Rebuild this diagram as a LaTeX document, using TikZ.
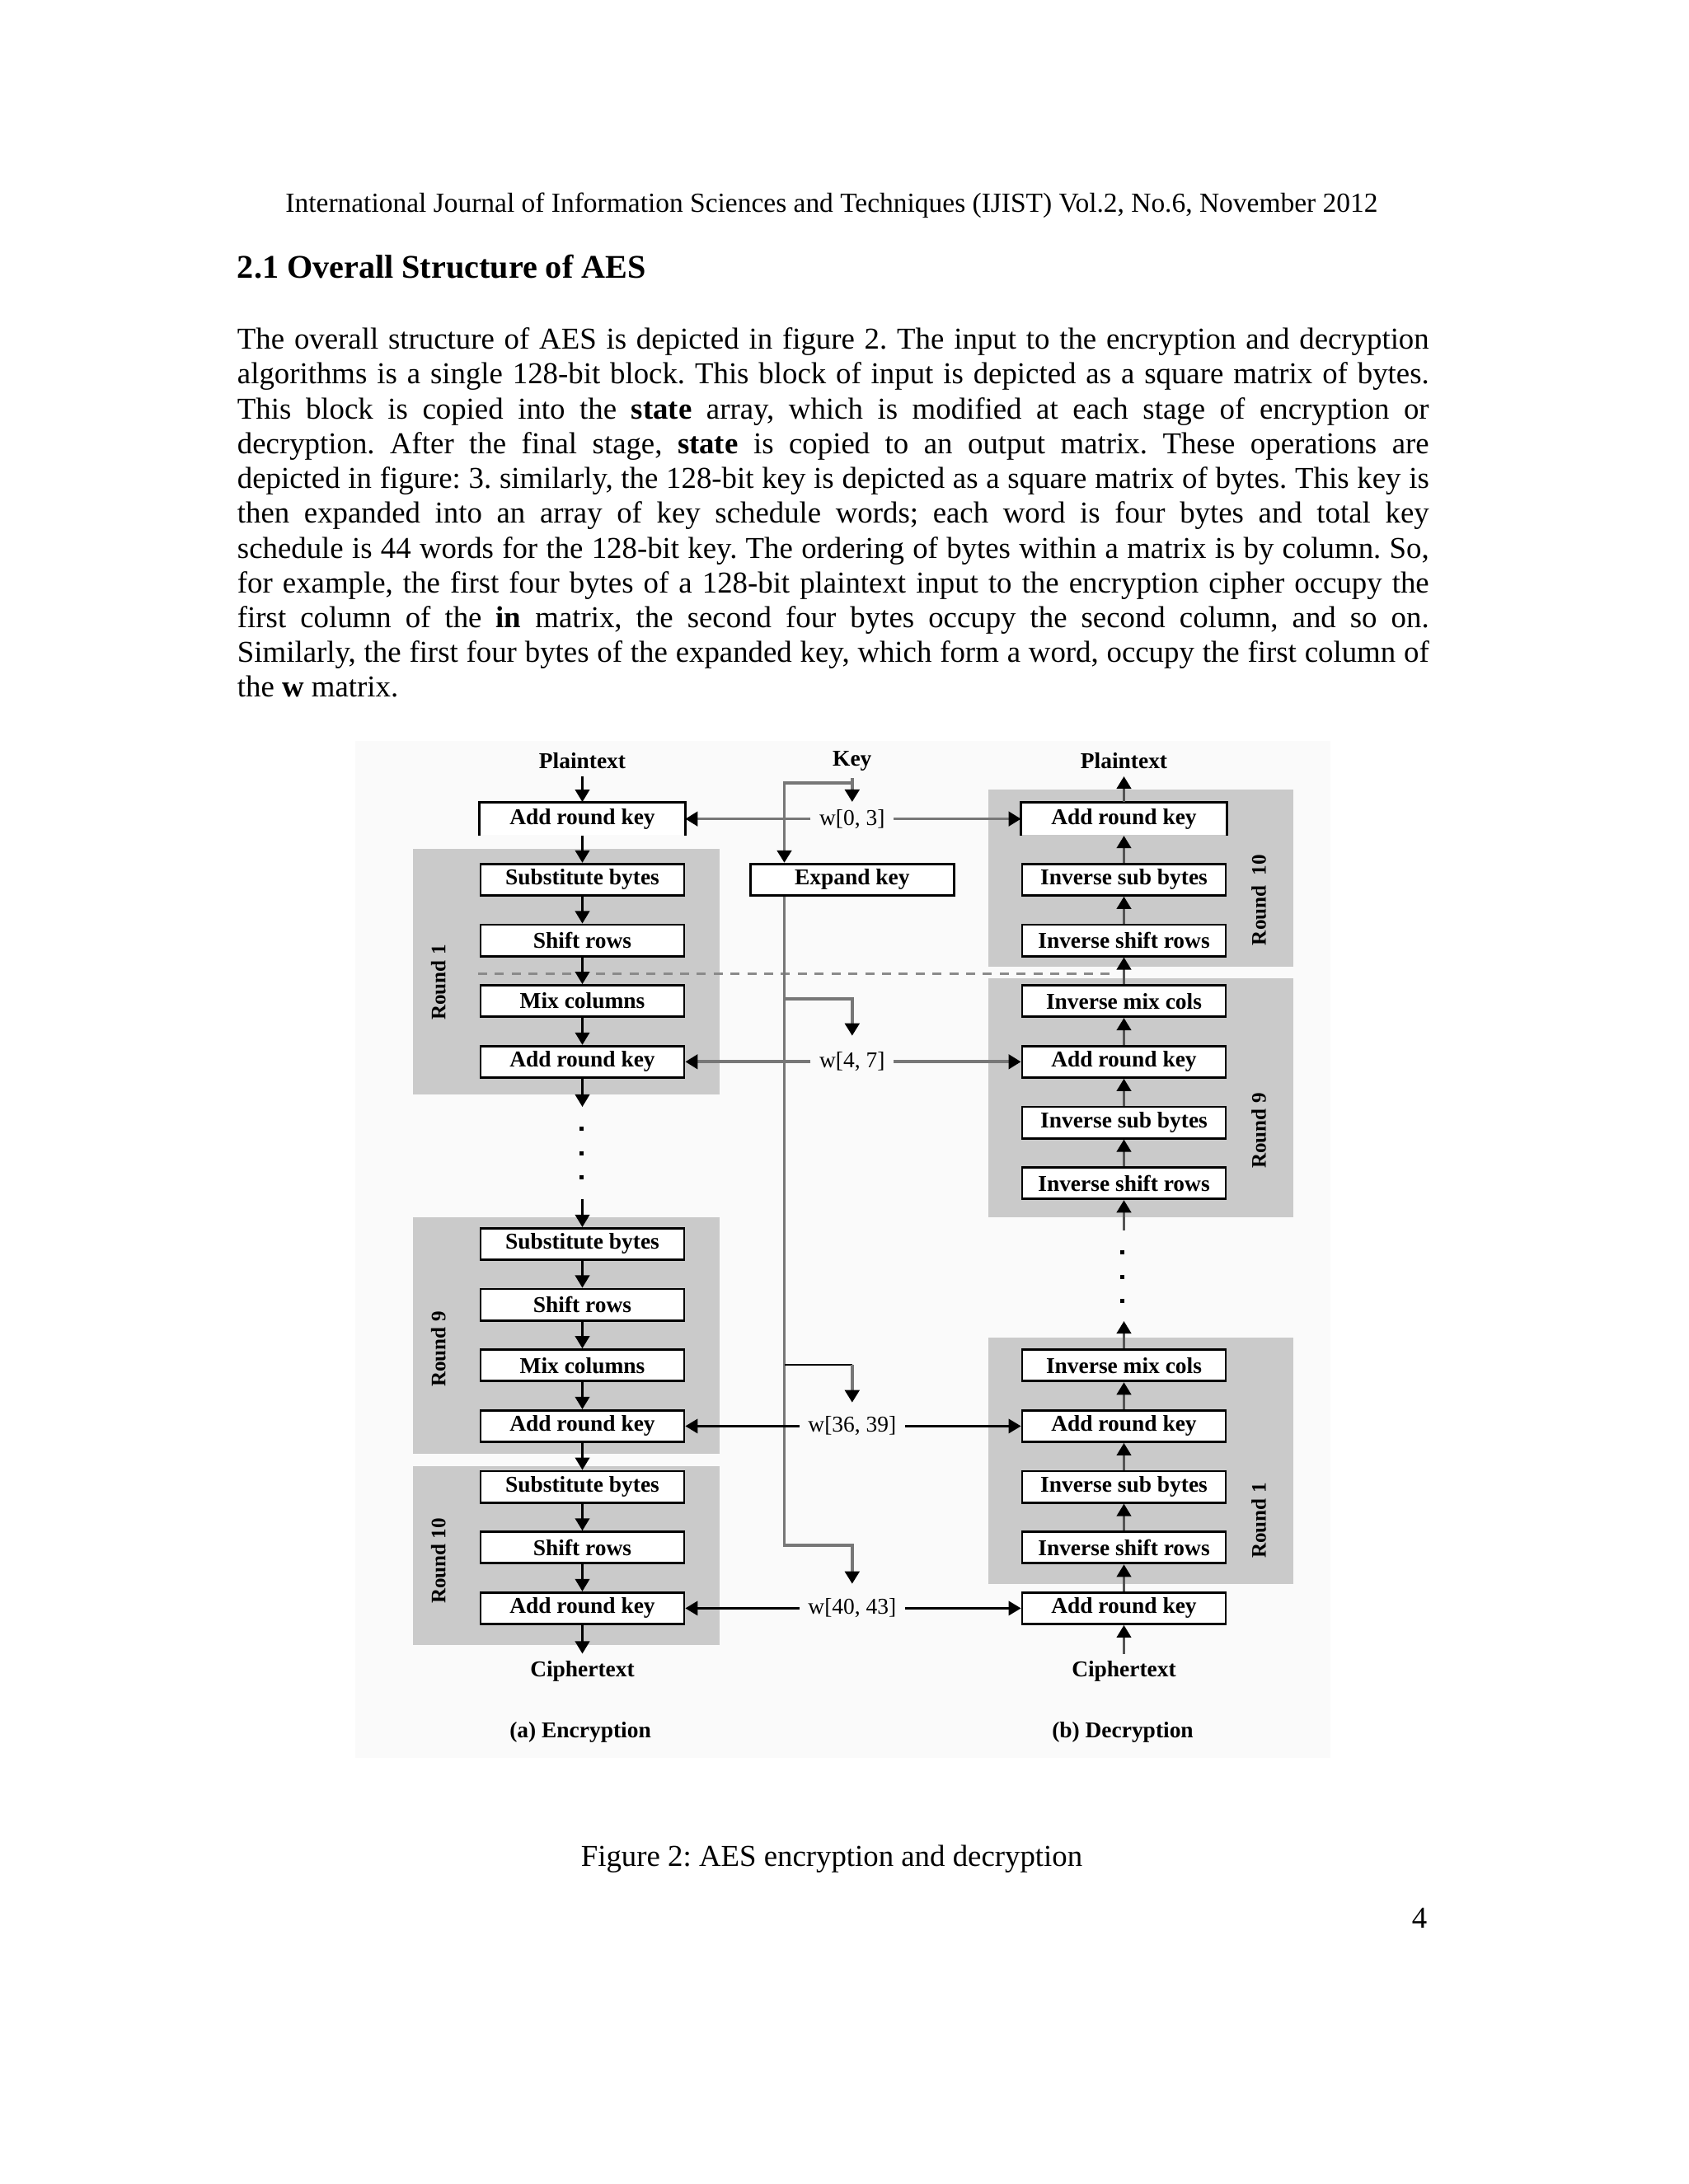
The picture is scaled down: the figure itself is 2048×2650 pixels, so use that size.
\documentclass[tikz,border=0pt]{standalone}
\usepackage{fontspec}
\setmainfont{Liberation Serif}
\usetikzlibrary{arrows.meta}
\definecolor{roundgray}{HTML}{CACACA}
\definecolor{keygray}{HTML}{777777}
\definecolor{flowgray}{HTML}{555555}
\definecolor{dashgray}{HTML}{8A8A8A}
\definecolor{figbg}{HTML}{FAFAFA}
\newcommand\mybody{\fontsize{11bp}{12.62bp}\selectfont}
\newcommand\myfig{\fontsize{8.2bp}{9bp}\selectfont}
\frenchspacing
\begin{document}
\frenchspacing
\begin{tikzpicture}[x=0.29883bp,y=-0.29883bp,
  box/.style={draw=black, line width=0.85bp, fill=white, minimum width=73.8bp, minimum height=11.4bp, inner sep=0pt, font=\myfig\bfseries},
  openbox/.style={box, draw=none},
  boxline/.style={draw=black, line width=0.85bp},
  lbl/.style={font=\myfig\bfseries, inner sep=2.5bp},
  wlbl/.style={font=\myfig, inner sep=3bp},
  rlbl/.style={font=\fontsize{7.5bp}{9bp}\selectfont\bfseries, rotate=90, inner sep=0pt},
  roundbg/.style={fill=roundgray},
  tip/.tip={Triangle[width=5.2bp,length=4.5bp,color=black]},
  flowL/.style={line width=0.8bp, draw=black, -tip},
  flowR/.style={line width=0.9bp, draw=flowgray, -tip},
  keyln/.style={line width=1.1bp, draw=keygray},
  keyarr/.style={keyln, -tip},
  blkarr/.style={line width=0.75bp, draw=black, -tip},
  blkln/.style={line width=0.75bp, draw=black},
  dotsq/.style={fill=black}
]
\useasboundingbox (0,0) rectangle (2048,2650);
\fill[white] (0,0) rectangle (2048,2650);

% ---------- page text ----------
\node[anchor=base, inner sep=0] (hdr) at (1009,257) {\fontsize{10bp}{12bp}\selectfont International Journal of Information Sciences and Techniques (IJIST) Vol.2, No.6, November 2012};
\node[anchor=base west, inner sep=0] (head) at (287.3,337) {\fontsize{12bp}{14bp}\selectfont\bfseries 2.1 Overall Structure of AES};

\node[anchor=base west, inner sep=0] (p1) at (287.3,423.6) {\mybody\makebox[432bp][s]{The overall structure of AES is depicted in figure 2. The input to the encryption and decryption}};
\node[anchor=base west, inner sep=0] (p2) at (287.3,465.9) {\mybody\makebox[432bp][s]{algorithms is a single 128-bit block. This block of input is depicted as a square matrix of bytes.}};
\node[anchor=base west, inner sep=0] (p3) at (287.3,508.1) {\mybody\makebox[432bp][s]{This block is copied into the \textbf{state} array, which is modified at each stage of encryption or}};
\node[anchor=base west, inner sep=0] (p4) at (287.3,550.4) {\mybody\makebox[432bp][s]{decryption. After the final stage, \textbf{state} is copied to an output matrix. These operations are}};
\node[anchor=base west, inner sep=0] (p5) at (287.3,592.6) {\mybody\makebox[432bp][s]{depicted in figure: 3. similarly, the 128-bit key is depicted as a square matrix of bytes. This key is}};
\node[anchor=base west, inner sep=0] (p6) at (287.3,634.8) {\mybody\makebox[432bp][s]{then expanded into an array of key schedule words; each word is four bytes and total key}};
\node[anchor=base west, inner sep=0] (p7) at (287.3,677.1) {\mybody\makebox[432bp][s]{schedule is 44 words for the 128-bit key. The ordering of bytes within a matrix is by column. So,}};
\node[anchor=base west, inner sep=0] (p8) at (287.3,719.3) {\mybody\makebox[432bp][s]{for example, the first four bytes of a 128-bit plaintext input to the encryption cipher occupy the}};
\node[anchor=base west, inner sep=0] (p9) at (287.3,761.6) {\mybody\makebox[432bp][s]{first column of the \textbf{in} matrix, the second four bytes occupy the second column, and so on.}};
\node[anchor=base west, inner sep=0] (p10) at (287.3,803.8) {\mybody\makebox[432bp][s]{Similarly, the first four bytes of the expanded key, which form a word, occupy the first column of}};
\node[anchor=base west, inner sep=0] (p11) at (287.3,845.1) {\mybody the \textbf{w} matrix.};

\node[anchor=base, inner sep=0] (cap) at (1009,2264) {\mybody Figure 2: AES encryption and decryption};
\node[anchor=base, inner sep=0] (pg) at (1722,2339) {\mybody 4};

% ---------- figure ----------
\fill[figbg] (431,899) rectangle (1614,2133);

% round backgrounds
\fill[roundgray] (501,1030) rectangle (873,1328);
\fill[roundgray] (501,1477) rectangle (873,1764);
\fill[roundgray] (501,1779) rectangle (873,1996);
\fill[roundgray] (1199,958) rectangle (1569,1173);
\fill[roundgray] (1199,1187) rectangle (1569,1477);
\fill[roundgray] (1199,1623) rectangle (1569,1922);

% dashed separator
\draw[dashgray, line width=0.8bp, dash pattern=on 3.3bp off 2.8bp] (580,1181.7) -- (1351,1181.7);

% round labels
\node[rlbl] (r1L) at (531.8,1192) {Round 1};
\node[rlbl] (r9L) at (531.8,1637) {Round 9};
\node[rlbl] (r10L) at (531.8,1894) {Round 10};
\node[rlbl] (r10R) at (1527,1092) {Round\ \ 10};
\node[rlbl] (r9R) at (1527,1372) {Round 9};
\node[rlbl] (r1R) at (1527,1845) {Round 1};

% top / bottom labels
\node[lbl] (ptL) at (706.5,923.3) {Plaintext};
\node[lbl] (key) at (1033.8,923.3) {Key};
\node[lbl] (ptR) at (1363.5,923.3) {Plaintext};
\node[lbl] (ctL) at (706.5,2028) {Ciphertext};
\node[lbl] (ctR) at (1363.5,2028) {Ciphertext};
\node[lbl] (capA) at (704,2101.7) {(a) Encryption};
\node[lbl] (capB) at (1362,2101.7) {(b) Decryption};

% key words
\node[wlbl] (w0) at (1033.8,993.6) {w[0, 3]};
\node[wlbl] (w4) at (1033.8,1288.3) {w[4, 7]};
\node[wlbl] (w36) at (1033.8,1730.4) {w[36, 39]};
\node[wlbl] (w40) at (1033.8,1951.4) {w[40, 43]};

% encryption column
\node[openbox] (eA0) at (706.5,993.6) {Add round key};
\draw[boxline] (eA0.south west) |- (eA0.north east) -- (eA0.south east);
\node[box] (eS1) at (706.5,1067.3) {Substitute bytes};
\node[box] (eR2) at (706.5,1141.0) {Shift rows};
\node[box] (eM3) at (706.5,1214.6) {Mix columns};
\node[box] (eA4) at (706.5,1288.3) {Add round key};
\node[box] (eS7) at (706.5,1509.4) {Substitute bytes};
\node[box] (eR8) at (706.5,1583.0) {Shift rows};
\node[box] (eM9) at (706.5,1656.7) {Mix columns};
\node[box] (eA10) at (706.5,1730.4) {Add round key};
\node[box] (eS11) at (706.5,1804.1) {Substitute bytes};
\node[box] (eR12) at (706.5,1877.8) {Shift rows};
\node[box] (eA13) at (706.5,1951.4) {Add round key};

% decryption column
\node[openbox] (dA0) at (1363.5,993.6) {Add round key};
\draw[boxline] (dA0.south west) |- (dA0.north east) -- (dA0.south east);
\node[box] (dS1) at (1363.5,1067.3) {Inverse sub bytes};
\node[box] (dR2) at (1363.5,1141.0) {Inverse shift rows};
\node[box] (dM3) at (1363.5,1214.6) {Inverse mix cols};
\node[box] (dA4) at (1363.5,1288.3) {Add round key};
\node[box] (dS5) at (1363.5,1362.0) {Inverse sub bytes};
\node[box] (dR6) at (1363.5,1435.7) {Inverse shift rows};
\node[box] (dM9) at (1363.5,1656.7) {Inverse mix cols};
\node[box] (dA10) at (1363.5,1730.4) {Add round key};
\node[box] (dS11) at (1363.5,1804.1) {Inverse sub bytes};
\node[box] (dR12) at (1363.5,1877.8) {Inverse shift rows};
\node[box] (dA13) at (1363.5,1951.4) {Add round key};

% expand key
\node[box] (kE) at (1033.8,1067.3) {Expand key};

% coordinates
\coordinate (cL4) at (706.5,1343);
\coordinate (cL7) at (706.5,1455);
\coordinate (cR6) at (1363.5,1493);
\coordinate (cR9) at (1363.5,1603);
\coordinate (kt0) at (1033.8,973);
\coordinate (kb) at (1033.8,950);
\coordinate (kc) at (951.5,950);
\coordinate (b4a) at (951.5,1211.7);
\coordinate (b4b) at (1033.8,1211.7);
\coordinate (t4) at (1033.8,1256.7);
\coordinate (b36a) at (951.5,1656);
\coordinate (b36b) at (1033.8,1656);
\coordinate (t36) at (1033.8,1701.7);
\coordinate (kbot) at (951.5,1875);
\coordinate (kbot2) at (1033.8,1875);
\coordinate (t40) at (1033.8,1921.7);

% dots
\foreach \yy in {1369,1399,1428} {\fill[dotsq] (702.5,\yy-2.5) rectangle (707.5,\yy+2.5);}
\foreach \yy in {1519,1549,1578} {\fill[dotsq] (1358.5,\yy-2.5) rectangle (1363.5,\yy+2.5);}

% key schedule lines
\draw[keyarr] (key.south) -- (kt0);
\draw[keyarr] (kb) -- (kc) -- (kc |- kE.north);
\draw[keyarr] (kc |- kE.south) -- (kbot) -- (kbot2) -- (t40);
\draw[keyarr] (b4a) -- (b4b) -- (t4);
\draw[blkln] (b36a) -- (b36b);
\draw[keyarr] (b36b) -- (t36);

% key word distribution
\draw[keyarr] (w0.west) -- (eA0.east);
\draw[keyarr] (w0.east) -- (dA0.west);
\draw[keyarr] (w4.west) -- (eA4.east);
\draw[keyarr] (w4.east) -- (dA4.west);
\draw[blkarr] (w36.west) -- (eA10.east);
\draw[blkarr] (w36.east) -- (dA10.west);
\draw[blkarr] (w40.west) -- (eA13.east);
\draw[blkarr] (w40.east) -- (dA13.west);

% encryption flow
\draw[flowL] (ptL.south) -- (eA0.north);
\draw[flowL] (eA0.south) -- (eS1.north);
\draw[flowL] (eS1) -- (eR2);
\draw[flowL] (eR2) -- (eM3);
\draw[flowL] (eM3) -- (eA4);
\draw[flowL] (eA4) -- (cL4);
\draw[flowL] (cL7) -- (eS7);
\draw[flowL] (eS7) -- (eR8);
\draw[flowL] (eR8) -- (eM9);
\draw[flowL] (eM9) -- (eA10);
\draw[flowL] (eA10) -- (eS11);
\draw[flowL] (eS11) -- (eR12);
\draw[flowL] (eR12) -- (eA13);
\draw[flowL] (eA13.south) -- (ctL.north);

% decryption flow
\draw[flowR] (dA0.north) -- (ptR.south);
\draw[flowR] (dS1) -- (dA0.south);
\draw[flowR] (dR2) -- (dS1);
\draw[flowR] (dM3) -- (dR2);
\draw[flowR] (dA4) -- (dM3);
\draw[flowR] (dS5) -- (dA4);
\draw[flowR] (dR6) -- (dS5);
\draw[flowR] (cR6) -- (dR6);
\draw[flowR] (dM9) -- (cR9);
\draw[flowR] (dA10) -- (dM9);
\draw[flowR] (dS11) -- (dA10);
\draw[flowR] (dR12) -- (dS11);
\draw[flowR] (dA13) -- (dR12);
\draw[flowR] (ctR.north) -- (dA13.south);
\end{tikzpicture}
\end{document}
